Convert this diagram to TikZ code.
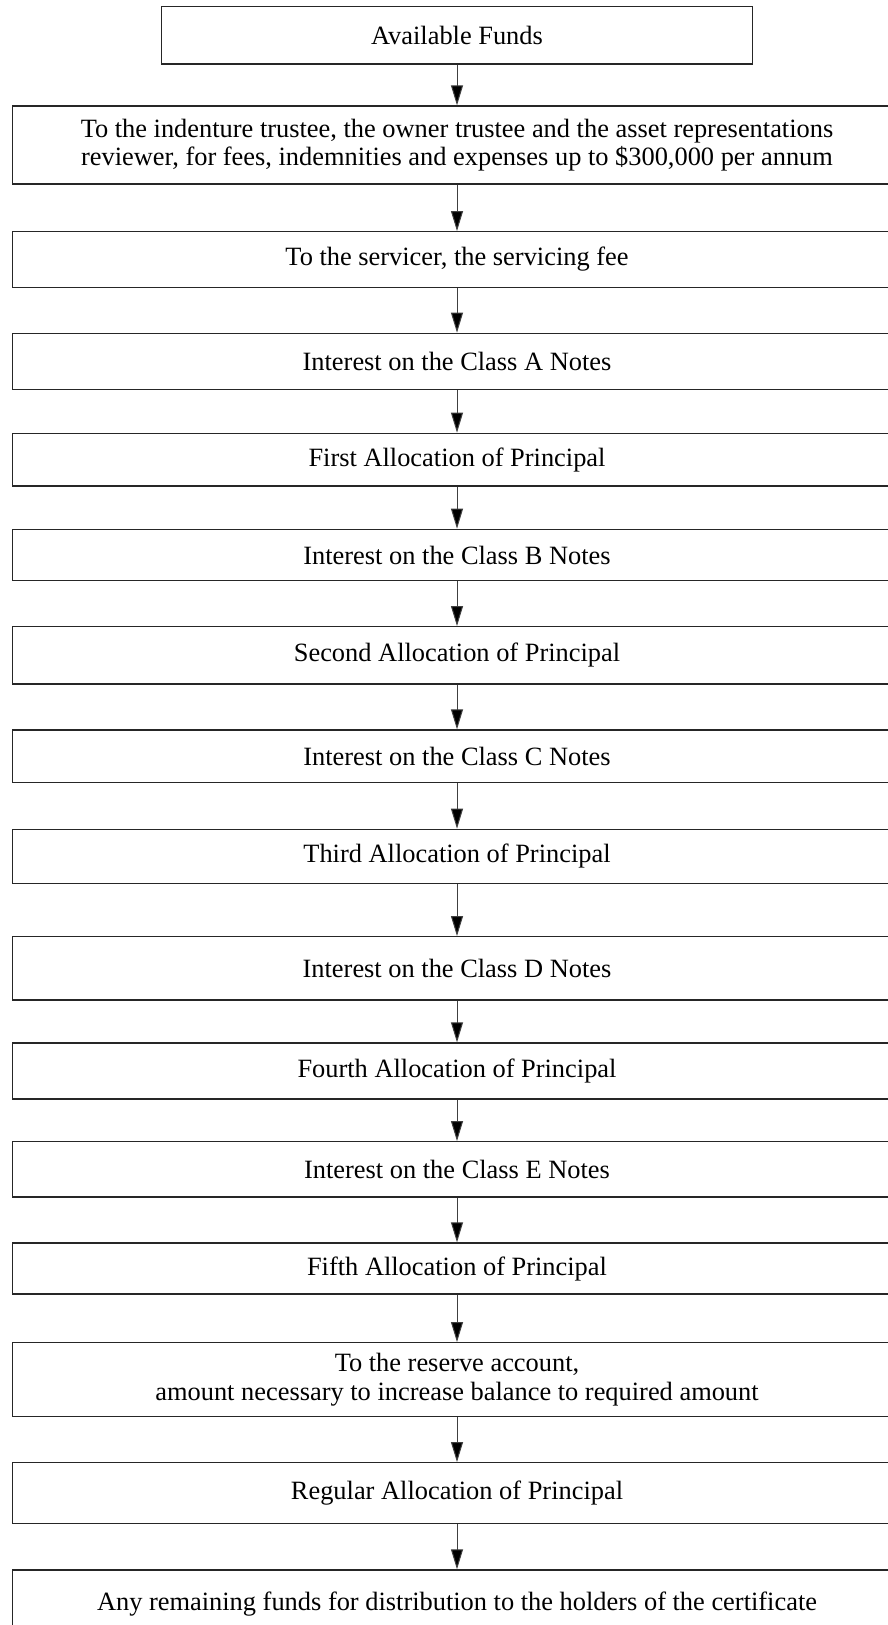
\documentclass[tikz,border=0pt]{standalone}
\usepackage{fontspec}
\setmainfont{Liberation Serif}
\usetikzlibrary{arrows.meta}
\begin{document}
\begin{tikzpicture}[x=1pt,y=-1pt,
  flowbox/.style={draw=black!85, line width=1.3pt, fill=white, inner sep=0pt,
    minimum width=888.6pt, align=center, font=\fontsize{26.4}{28.5}\selectfont},
  flowarrow/.style={draw=black!75, line width=1pt, -{Triangle[length=20pt,width=12pt,fill=black]}}]
\useasboundingbox (0,0) rectangle (888,1625);
\clip (0,0) rectangle (888,1625);
\fill[white] (0,0) rectangle (888,1625);
\node[flowbox, minimum width=591.6pt, minimum height=57.3pt] (b1) at (457,35.35) {Available Funds};
\node[flowbox, minimum height=78pt] (b2) at (457,145) {To the indenture trustee, the owner trustee and the asset representations\\reviewer, for fees, indemnities and expenses up to \$300,000 per annum};
\node[flowbox, minimum height=55.6pt] (b3) at (457,259.5) {To the servicer, the servicing fee};
\node[flowbox, minimum height=56pt] (b4) at (457,361.3) {Interest on the Class A Notes};
\node[flowbox, minimum height=52.7pt] (b5) at (457,459.65) {First Allocation of Principal};
\node[flowbox, minimum height=51.4pt] (b6) at (457,555) {Interest on the Class B Notes};
\node[flowbox, minimum height=57.3pt] (b7) at (457,655.35) {Second Allocation of Principal};
\node[flowbox, minimum height=52.7pt] (b8) at (457,756.35) {Interest on the Class C Notes};
\node[flowbox, minimum height=54pt] (b9) at (457,856.3) {Third Allocation of Principal};
\node[flowbox, minimum height=63.3pt] (b10) at (457,968.35) {Interest on the Class D Notes};
\node[flowbox, minimum height=56pt] (b11) at (457,1071) {Fourth Allocation of Principal};
\node[flowbox, minimum height=55.3pt] (b12) at (457,1169.35) {Interest on the Class E Notes};
\node[flowbox, minimum height=51pt] (b13) at (457,1268.5) {Fifth Allocation of Principal};
\node[flowbox, minimum height=74pt] (b14) at (457,1379.7) {To the reserve account,\\amount necessary to increase balance to required amount};
\node[flowbox, minimum height=60.6pt] (b15) at (457,1493) {Regular Allocation of Principal};
\node[flowbox, minimum height=100pt, anchor=north] (b16) at (457,1569.3) {};
\node[font=\fontsize{26.4}{28.5}\selectfont] (t16) at (457,1604) {Any remaining funds for distribution to the holders of the certificate};
\foreach \a/\b in {b1/b2,b2/b3,b3/b4,b4/b5,b5/b6,b6/b7,b7/b8,b8/b9,b9/b10,b10/b11,b11/b12,b12/b13,b13/b14,b14/b15,b15/b16}
  \draw[flowarrow] (\a.south) -- (\b.north);
\end{tikzpicture}
\end{document}
